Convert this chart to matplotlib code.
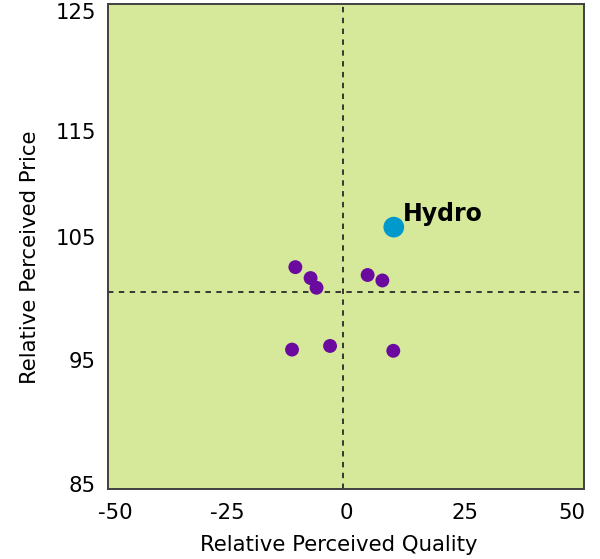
import matplotlib.pyplot as plt
import matplotlib.transforms as mtransforms
import numpy as np

plt.rcParams['axes.unicode_minus'] = False

# brand positions (relative perceived quality, relative perceived price)
other_quality = [-10.7, -7.5, -6.25, 4.5, 7.6, -11.4, -3.4, 9.9]
other_price = [103.3, 102.4, 101.6, 102.65, 102.2, 96.5, 96.8, 96.4]
hydro_quality = [10.0]
hydro_price = [106.6]
hydro_label = "Hydro"

# reference lines (averages)
mid_quality = -0.7
mid_price = 101.25

x_ticks = [-50, -25, 0, 25, 50]
y_ticks = [85, 95, 105, 115, 125]

fig = plt.figure(figsize=(6, 5.59), dpi=100)
ax = fig.add_axes([0.1808, 0.1252, 0.7925, 0.8676])
ax.set_facecolor('#d6e99a')

ax.axvline(mid_quality, color='#2a2a2a', lw=1.3, ls=(0, (3, 3)), zorder=1)
ax.axhline(mid_price, color='#2a2a2a', lw=1.3, ls=(0, (3, 3)), zorder=1)

ax.scatter(other_quality, other_price, s=100, color='#6a0a9e', edgecolors='none', zorder=3)
ax.scatter(hydro_quality, hydro_price, s=222, color='#0099cc', edgecolors='none', zorder=3)
ax.annotate(hydro_label, (hydro_quality[0], hydro_price[0]), xytext=(6.5, 4.3),
	textcoords='offset points', fontsize=17, fontweight='bold', ha='left', va='baseline')

ax.set_xlim(-50, 50)
ax.set_ylim(85, 125)
ax.set_xticks(x_ticks)
ax.set_yticks(y_ticks)
ax.tick_params(length=0, labelsize=15.3)
ax.tick_params(axis='x', pad=10)
ax.tick_params(axis='y', pad=9)

# nudge tick labels to sit like the original
fig.canvas.draw()
x_nudge = {-50: 7, 50: -12}
y_nudge = {125: -7, 115: -6, 105: 9.5, 95: 7.5, 85: 5}
for val, lab in zip(x_ticks, ax.get_xticklabels()):
	dx = x_nudge.get(val, 0)
	lab.set_transform(lab.get_transform() + mtransforms.Affine2D().translate(dx, 0))
for val, lab in zip(y_ticks, ax.get_yticklabels()):
	dy = y_nudge.get(val, 0)
	lab.set_transform(lab.get_transform() + mtransforms.Affine2D().translate(0, dy))

ax.set_xlabel("Relative Perceived Quality", fontsize=15.3)
ax.set_ylabel("Relative Perceived Price", fontsize=15.3)
ax.xaxis.set_label_coords(0.485, -0.1155)
ax.xaxis.label.set_va('center')
ax.yaxis.set_label_coords(-0.165, 0.478)
ax.yaxis.label.set_va('center')

for sp in ax.spines.values():
	sp.set_color('#404040')
	sp.set_linewidth(1.4)

fig.savefig("out.png", dpi=100)
